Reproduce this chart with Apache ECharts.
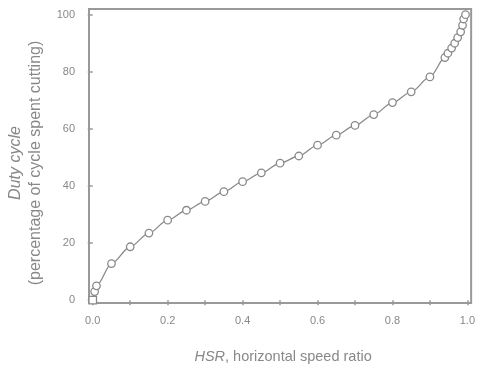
<!DOCTYPE html>
<html>
<head>
<meta charset="utf-8">
<script src="https://cdn.jsdelivr.net/npm/echarts@6/dist/echarts.min.js"></script>
<style>html,body{margin:0;padding:0;background:#fff;}#c{width:478px;height:369px;}</style>
</head>
<body>
<div id="c"></div>
<script>
const hsr = [0, 0.005, 0.01, 0.05, 0.1, 0.15, 0.2, 0.25, 0.3, 0.35, 0.4, 0.45, 0.5, 0.55, 0.6, 0.65, 0.7, 0.75, 0.8, 0.85, 0.9, 0.94, 0.948, 0.958, 0.966, 0.974, 0.982, 0.987, 0.99, 0.995];
const duty = [0, 3, 5, 12.8, 18.7, 23.5, 28, 31.5, 34.6, 38, 41.5, 44.6, 48, 50.5, 54.3, 57.8, 61.2, 65, 69.2, 73, 78.2, 85, 86.5, 88.3, 90, 92, 94, 96.3, 98.5, 100];
const xTicks = [0, 0.1, 0.2, 0.3, 0.4, 0.5, 0.6, 0.7, 0.8, 0.9, 1.0];
const xLabels = [0, 0.2, 0.4, 0.6, 0.8, 1.0];
const yTicks = [0, 20, 40, 60, 80, 100];

const gray = '#999';
const txt = '#888';
const font = 'Liberation Sans, Arial, sans-serif';
const chart = echarts.init(document.getElementById('c'));
chart.setOption({
  animation: false,
  backgroundColor: '#fff',
  grid: {left: 86, right: 6, top: 9, bottom: 64, show: true, borderColor: gray, borderWidth: 2, backgroundColor: 'transparent'},
  xAxis: {
    type: 'value', min: -0.01, max: 1.01,
    name: '{i|HSR}{n|, horizontal speed ratio}',
    nameLocation: 'middle', nameGap: 46,
    nameTextStyle: {padding: [0, 0, 0, 6], rich: {i: {fontStyle: 'italic', fontSize: 14.5, color: txt, fontFamily: font}, n: {fontSize: 14.5, color: txt, fontFamily: font}}},
    axisLine: {show: false},
    splitLine: {show: false},
    axisTick: {show: true, length: 5, inside: false, customValues: xTicks, lineStyle: {color: gray, width: 1.5}},
    axisLabel: {customValues: xLabels, margin: 12, color: txt, fontSize: 11, fontFamily: font, formatter: v => v.toFixed(1)}
  },
  yAxis: {
    type: 'value', min: -1, max: 102,
    name: '{i|Duty cycle}\n{n|(percentage of cycle spent cutting)}',
    nameLocation: 'middle', nameGap: 43, nameRotate: 90,
    nameTextStyle: {align: 'center', padding: [0, 14, 0, 0], rich: {i: {fontStyle: 'italic', fontSize: 16, color: txt, fontFamily: font, lineHeight: 20, align: 'center'}, n: {fontSize: 16, color: txt, fontFamily: font, lineHeight: 20, align: 'center'}}},
    axisLine: {show: false},
    splitLine: {show: false},
    axisTick: {show: true, length: 5, inside: false, customValues: yTicks, lineStyle: {color: gray, width: 1.5}},
    axisLabel: {customValues: yTicks, margin: 14, color: txt, fontSize: 11, fontFamily: font}
  },
  series: [{
    type: 'line',
    data: hsr.map((x, i) => ({value: [x, duty[i]], symbol: i === 0 ? 'rect' : 'circle'})),
    smooth: 0.3,
    smoothMonotone: 'x',
    symbolSize: 7.5,
    showAllSymbol: true,
    lineStyle: {color: '#8a8a8a', width: 1.3},
    itemStyle: {color: '#fff', borderColor: '#8a8a8a', borderWidth: 1.3}
  }]
});
</script>
</body>
</html>
